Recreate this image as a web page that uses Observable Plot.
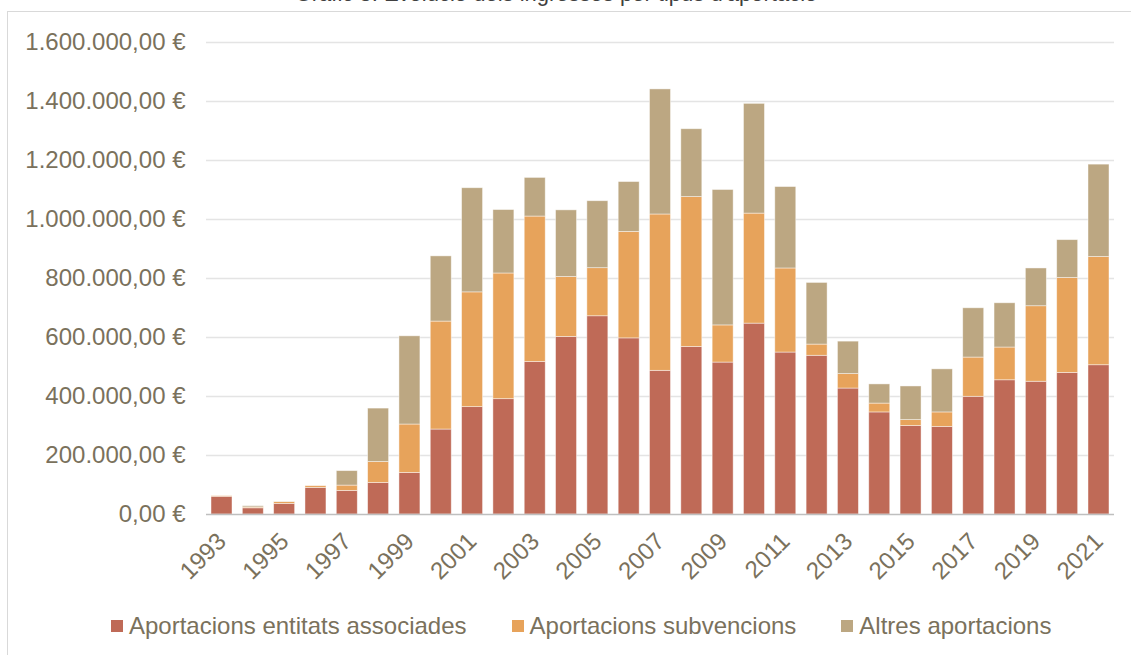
<!DOCTYPE html>
<html>
<head>
<meta charset="utf-8">
<script src="https://cdn.jsdelivr.net/npm/d3@7"></script>
<script src="https://cdn.jsdelivr.net/npm/@observablehq/plot@0.6"></script>
<style>
  html, body { margin: 0; padding: 0; background: #fff; }
  #wrap { position: relative; width: 1131px; height: 655px; overflow: hidden; font-family: "Liberation Sans", Arial, sans-serif; }
  #frame { position: absolute; left: 7px; top: 11px; width: 1140px; height: 700px; border: 1.5px solid #d9d9d9; box-sizing: border-box; }
  #title { position: absolute; left: 0; width: 1112px; top: -19px; text-align: center; font-size: 22px; line-height: 26px; color: #404040; }
  #chart { position: absolute; left: 0; top: 0; }
  #legend { position: absolute; left: 111px; top: 612px; display: flex; gap: 45px; font-size: 24px; line-height: 28px; color: #7a715c; white-space: nowrap; }
  #legend .item { display: flex; align-items: center; }
  #legend .sw { width: 12px; height: 12px; margin-right: 6px; }
</style>
</head>
<body>
<div id="wrap">
  <div id="frame"></div>
  <div id="title">Gràfic 3: Evolució dels ingressos per tipus d'aportació</div>
  <div id="chart"></div>
  <div id="legend"></div>
</div>
<script>
const years = [1993,1994,1995,1996,1997,1998,1999,2000,2001,2002,2003,2004,2005,2006,2007,2008,2009,2010,2011,2012,2013,2014,2015,2016,2017,2018,2019,2020,2021];
const seriesNames = ["Aportacions entitats associades", "Aportacions subvencions", "Altres aportacions"];
const seriesColors = ["#bf6a57", "#e7a35b", "#bca782"];
const entitats = [60000,21000,36000,90000,80000,107000,141000,288000,364000,391000,517000,602000,672000,597000,487000,568000,515000,647000,549000,538000,427000,346000,300000,297000,399000,455000,450000,480000,506000];
const subvencions = [2000,3000,6000,6000,18000,71000,164000,366000,389000,426000,493000,203000,163000,361000,530000,508000,126000,373000,285000,38000,49000,30000,20000,49000,133000,111000,256000,322000,367000];
const altres = [0,4000,1000,0,49000,181000,299000,221000,353000,215000,131000,226000,227000,169000,424000,230000,459000,372000,276000,209000,110000,65000,114000,146000,167000,150000,128000,128000,313000];
const yTicks = [0,200000,400000,600000,800000,1000000,1200000,1400000,1600000];
const xTickYears = [1993,1995,1997,1999,2001,2003,2005,2007,2009,2011,2013,2015,2017,2019,2021];

const seriesValues = [entitats, subvencions, altres];
const data = [];
seriesNames.forEach((name, s) => {
  years.forEach((yr, i) => data.push({year: yr, series: name, value: seriesValues[s][i]}));
});

const loc = d3.formatLocale({decimal: ",", thousands: ".", grouping: [3], currency: ["", " €"]});
const fmt = loc.format("$,.2f");
const textColor = "#7a715c";

const chart = Plot.plot({
  width: 1131,
  height: 600,
  marginTop: 42,
  marginBottom: 86,
  marginLeft: 206,
  marginRight: 17,
  style: {fontFamily: "'Liberation Sans', Arial, sans-serif", fontSize: "24px", color: textColor, background: "transparent"},
  x: {type: "band", domain: years, paddingInner: 0.33, paddingOuter: 0.16, round: false, label: null},
  y: {domain: [0, 1600000], label: null},
  color: {domain: seriesNames, range: seriesColors},
  marks: [
    Plot.ruleY(yTicks.filter(d => d > 0), {stroke: "#e4e4e4", strokeWidth: 1.5}),
    Plot.barY(data, Plot.stackY({x: "year", y: "value", fill: "series", order: seriesNames, stroke: "#ffffff", strokeOpacity: 0.55, strokeWidth: 0.8})),
    Plot.ruleY([0], {stroke: "#bfbfbf", strokeWidth: 1.5}),
    Plot.axisY({ticks: yTicks, tickFormat: fmt, tickSize: 0, tickPadding: 21, fill: textColor, fontSize: 24, label: null}),
    Plot.axisX({ticks: xTickYears, tickFormat: d => String(d), tickRotate: -45, tickSize: 0, tickPadding: 23, fill: textColor, fontSize: 24, label: null})
  ]
});
document.getElementById("chart").appendChild(chart);

const legend = document.getElementById("legend");
seriesNames.forEach((name, i) => {
  const item = document.createElement("div");
  item.className = "item";
  const sw = document.createElement("span");
  sw.className = "sw";
  sw.style.background = seriesColors[i];
  const tx = document.createElement("span");
  tx.textContent = name;
  item.appendChild(sw);
  item.appendChild(tx);
  legend.appendChild(item);
});
</script>
</body>
</html>
